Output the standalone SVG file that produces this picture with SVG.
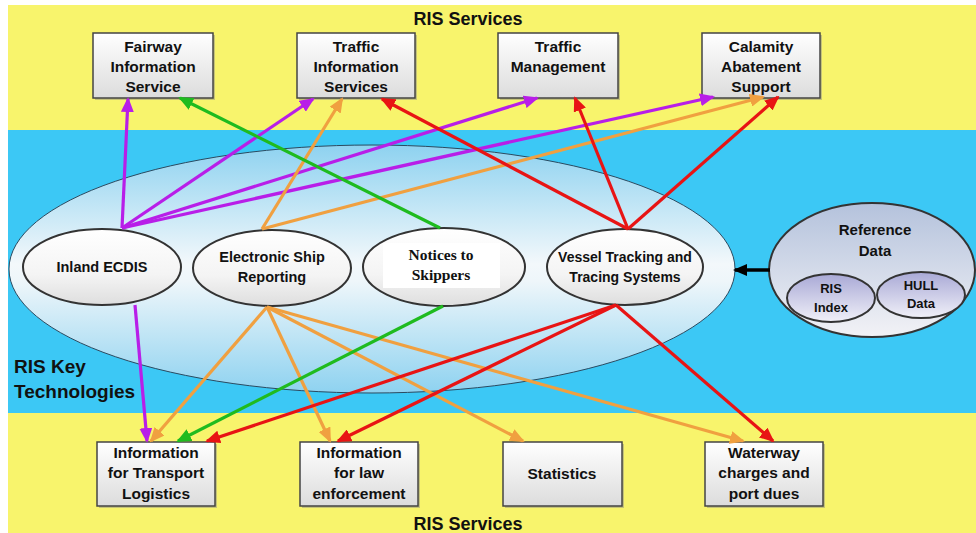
<svg xmlns="http://www.w3.org/2000/svg" width="976" height="533" viewBox="0 0 976 533">
<defs>
<style>
text{font-family:"Liberation Sans",Arial,sans-serif;font-weight:bold;fill:#111;text-anchor:middle}
.box{fill:url(#gBox);stroke:#444;stroke-width:1.5}
.shadow{fill:#888;opacity:0.45}
.tl{font-size:15.5px}
.el{font-size:14.5px}
.inner{fill:url(#gInner);stroke:#333;stroke-width:2}
.c{fill:none;stroke-width:3.2}
.pu{stroke:#b81ee8}
.or{stroke:#f0a040}
.gr{stroke:#1fbb1f}
.rd{stroke:#e81414}
</style>
<linearGradient id="gBox" x1="0" y1="0" x2="0" y2="1"><stop offset="0" stop-color="#ffffff"/><stop offset="1" stop-color="#dcdcdc"/></linearGradient>
<linearGradient id="gBig" x1="0" y1="0" x2="0" y2="1"><stop offset="0" stop-color="#8ed2f0"/><stop offset="0.48" stop-color="#f3f8fb"/><stop offset="0.55" stop-color="#eef6fa"/><stop offset="1" stop-color="#8ed2f0"/></linearGradient>
<linearGradient id="gInner" x1="0" y1="0" x2="0" y2="1"><stop offset="0" stop-color="#ffffff"/><stop offset="0.6" stop-color="#f4f4f4"/><stop offset="1" stop-color="#dedede"/></linearGradient>
<linearGradient id="gRef" x1="0" y1="0" x2="0" y2="1"><stop offset="0" stop-color="#b4c2dc"/><stop offset="1" stop-color="#f2f2f6"/></linearGradient>
<linearGradient id="gSub" x1="0" y1="0" x2="0" y2="1"><stop offset="0" stop-color="#a9a9d6"/><stop offset="1" stop-color="#f0f0f8"/></linearGradient>
<marker id="mPu" markerUnits="userSpaceOnUse" markerWidth="15" markerHeight="13" refX="13" refY="6.5" orient="auto"><path d="M0,0 L15,6.5 L0,13 z" fill="#b81ee8"/></marker>
<marker id="mOr" markerUnits="userSpaceOnUse" markerWidth="15" markerHeight="13" refX="13" refY="6.5" orient="auto"><path d="M0,0 L15,6.5 L0,13 z" fill="#f0a040"/></marker>
<marker id="mGr" markerUnits="userSpaceOnUse" markerWidth="15" markerHeight="13" refX="13" refY="6.5" orient="auto"><path d="M0,0 L15,6.5 L0,13 z" fill="#1fbb1f"/></marker>
<marker id="mRd" markerUnits="userSpaceOnUse" markerWidth="15" markerHeight="13" refX="13" refY="6.5" orient="auto"><path d="M0,0 L15,6.5 L0,13 z" fill="#e81414"/></marker>
<marker id="mBk" markerUnits="userSpaceOnUse" markerWidth="14" markerHeight="12" refX="12" refY="6" orient="auto"><path d="M0,0 L14,6 L0,12 z" fill="#000"/></marker>
</defs>

<g id="background">
<rect x="0" y="0" width="976" height="533" fill="#ffffff"/>
<rect x="8" y="5" width="968" height="528" fill="#f8f46c"/>
<rect x="8" y="130" width="968" height="283" fill="#3cc8f5"/>
<text x="468" y="25" style="font-size:18px">RIS Services</text>
<text x="468" y="530" style="font-size:18px">RIS Services</text>
</g>

<g id="key-technologies">
<ellipse cx="372" cy="269" rx="363" ry="124" fill="url(#gBig)" stroke="#2b4a60" stroke-width="1"/>
<text x="14" y="373" style="font-size:19px;text-anchor:start">RIS Key</text>
<text x="14" y="398" style="font-size:19px;text-anchor:start">Technologies</text>
</g>

<g id="fairway-information-service">
<rect class="shadow" x="95" y="35" width="120" height="65"/>
<rect class="box" x="93" y="33" width="120" height="65"/>
<text class="tl" x="153" y="52">Fairway</text>
<text class="tl" x="153" y="72">Information</text>
<text class="tl" x="153" y="92">Service</text>
</g>
<g id="traffic-information-services">
<rect class="shadow" x="299" y="35" width="118" height="65"/>
<rect class="box" x="297" y="33" width="118" height="65"/>
<text class="tl" x="356" y="52">Traffic</text>
<text class="tl" x="356" y="72">Information</text>
<text class="tl" x="356" y="92">Services</text>
</g>
<g id="traffic-management">
<rect class="shadow" x="500" y="35" width="120" height="65"/>
<rect class="box" x="498" y="33" width="120" height="65"/>
<text class="tl" x="558" y="52">Traffic</text>
<text class="tl" x="558" y="72">Management</text>
</g>
<g id="calamity-abatement-support">
<rect class="shadow" x="704" y="35" width="118" height="65"/>
<rect class="box" x="702" y="33" width="118" height="65"/>
<text class="tl" x="761" y="52">Calamity</text>
<text class="tl" x="761" y="72">Abatement</text>
<text class="tl" x="761" y="92">Support</text>
</g>

<g id="info-transport-logistics">
<rect class="shadow" x="99" y="444" width="118" height="64"/>
<rect class="box" x="97" y="442" width="118" height="64"/>
<text class="tl" x="156" y="458">Information</text>
<text class="tl" x="156" y="478">for Transport</text>
<text class="tl" x="156" y="499">Logistics</text>
</g>
<g id="info-law-enforcement">
<rect class="shadow" x="302" y="444" width="118" height="64"/>
<rect class="box" x="300" y="442" width="118" height="64"/>
<text class="tl" x="359" y="458">Information</text>
<text class="tl" x="359" y="478">for law</text>
<text class="tl" x="359" y="499">enforcement</text>
</g>
<g id="statistics">
<rect class="shadow" x="505" y="444" width="119" height="64"/>
<rect class="box" x="503" y="442" width="119" height="64"/>
<text class="tl" x="562" y="479">Statistics</text>
</g>
<g id="waterway-charges">
<rect class="shadow" x="707" y="444" width="118" height="64"/>
<rect class="box" x="705" y="442" width="118" height="64"/>
<text class="tl" x="764" y="458">Waterway</text>
<text class="tl" x="764" y="478">charges and</text>
<text class="tl" x="764" y="499">port dues</text>
</g>

<g id="inland-ecdis">
<ellipse class="inner" cx="102" cy="267" rx="79" ry="38"/>
<text class="el" x="102" y="272">Inland ECDIS</text>
</g>
<g id="electronic-ship-reporting">
<ellipse class="inner" cx="272" cy="268" rx="79" ry="38"/>
<text class="el" x="272" y="262">Electronic Ship</text>
<text class="el" x="272" y="282">Reporting</text>
</g>
<g id="notices-to-skippers">
<ellipse class="inner" cx="444" cy="267" rx="81" ry="39"/>
<rect x="383" y="243" width="117" height="45" fill="#ffffff"/>
<text x="441" y="260" style="font-family:'Liberation Serif','Times New Roman',serif;font-size:15.5px">Notices to</text>
<text x="441" y="280" style="font-family:'Liberation Serif','Times New Roman',serif;font-size:15.5px">Skippers</text>
</g>
<g id="vessel-tracking">
<ellipse class="inner" cx="625" cy="267" rx="78" ry="38"/>
<text x="625" y="262" style="font-size:14px">Vessel Tracking and</text>
<text x="625" y="282" style="font-size:14px">Tracing Systems</text>
</g>

<g id="reference-data">
<ellipse cx="872" cy="270" rx="103" ry="67" fill="url(#gRef)" stroke="#333" stroke-width="2"/>
<text x="875" y="235" style="font-size:15px">Reference</text>
<text x="875" y="256" style="font-size:15px">Data</text>
<g id="ris-index">
<ellipse cx="831" cy="298" rx="44" ry="24" fill="url(#gSub)" stroke="#333" stroke-width="2"/>
<text x="831" y="293" style="font-size:13px">RIS</text>
<text x="831" y="312" style="font-size:13px">Index</text>
</g>
<g id="hull-data">
<ellipse cx="921" cy="295" rx="44" ry="23" fill="url(#gSub)" stroke="#333" stroke-width="2"/>
<text x="921" y="290" style="font-size:13px">HULL</text>
<text x="921" y="308" style="font-size:13px">Data</text>
</g>
</g>

<g id="connectors">
<path class="c pu" d="M122,228 L128,99" marker-end="url(#mPu)"/>
<path class="c pu" d="M122,228 L313,99" marker-end="url(#mPu)"/>
<path class="c pu" d="M122,228 L537,98" marker-end="url(#mPu)"/>
<path class="c pu" d="M122,228 L713,97" marker-end="url(#mPu)"/>
<path class="c pu" d="M135,305 L147,441" marker-end="url(#mPu)"/>
<path class="c or" d="M262,229 L342,99" marker-end="url(#mOr)"/>
<path class="c or" d="M262,229 L763,97" marker-end="url(#mOr)"/>
<path class="c or" d="M267,307 L151,441" marker-end="url(#mOr)"/>
<path class="c or" d="M267,307 L330,441" marker-end="url(#mOr)"/>
<path class="c or" d="M267,307 L523,441" marker-end="url(#mOr)"/>
<path class="c or" d="M267,307 L743,441" marker-end="url(#mOr)"/>
<path class="c gr" d="M440,228 L180,98" marker-end="url(#mGr)"/>
<path class="c gr" d="M443,306 L178,441" marker-end="url(#mGr)"/>
<path class="c rd" d="M628,229 L382,99" marker-end="url(#mRd)"/>
<path class="c rd" d="M628,229 L575,98" marker-end="url(#mRd)"/>
<path class="c rd" d="M628,229 L778,97" marker-end="url(#mRd)"/>
<path class="c rd" d="M616,305 L207,441" marker-end="url(#mRd)"/>
<path class="c rd" d="M616,305 L338,441" marker-end="url(#mRd)"/>
<path class="c rd" d="M616,305 L773,441" marker-end="url(#mRd)"/>
<path d="M770,270 L735,270" stroke="#000" stroke-width="3.5" fill="none" marker-end="url(#mBk)"/>
</g>
</svg>
